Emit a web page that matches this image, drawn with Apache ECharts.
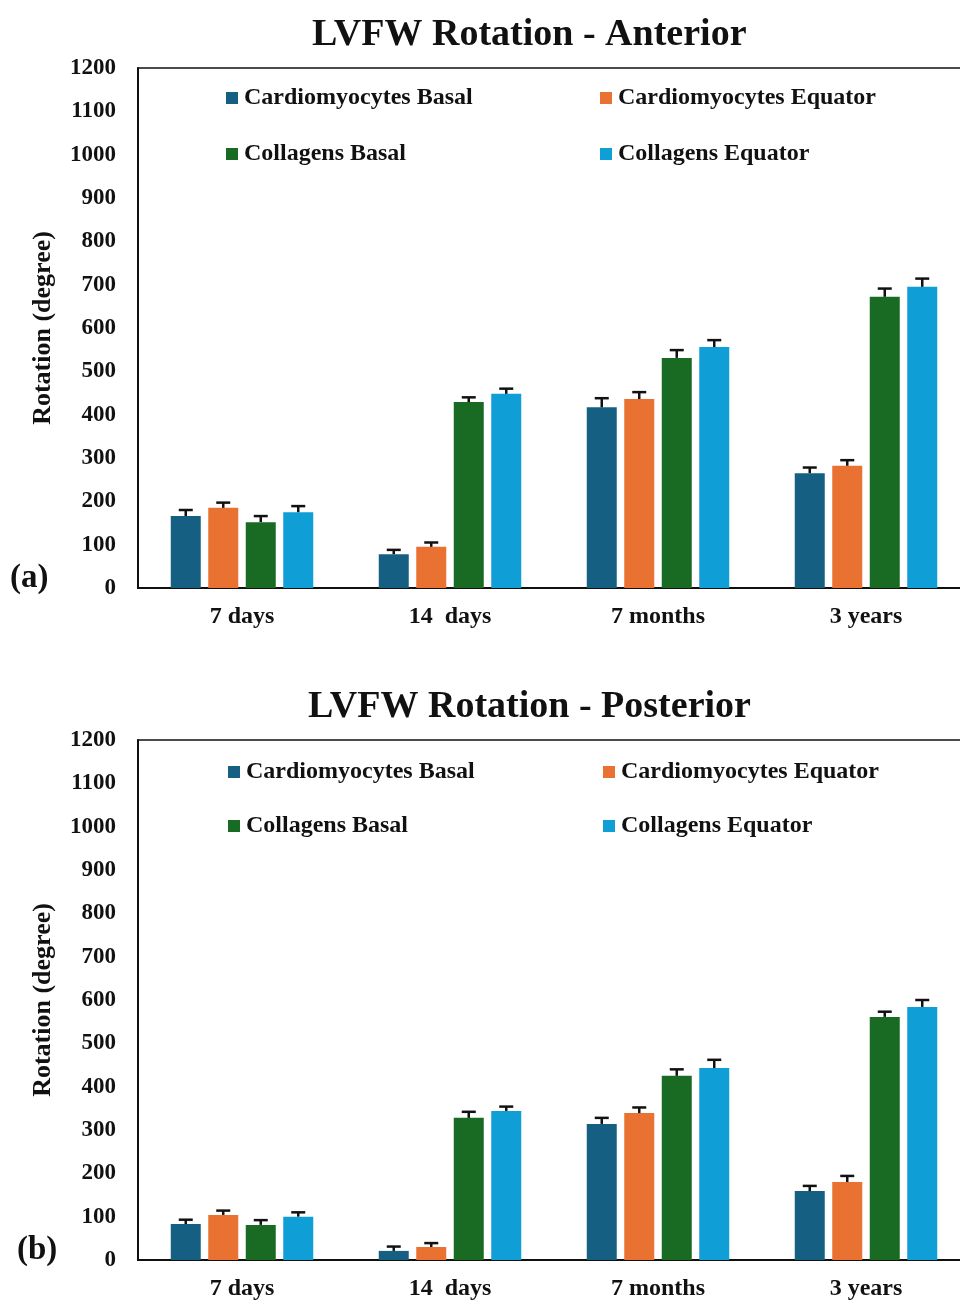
<!DOCTYPE html>
<html>
<head>
<meta charset="utf-8">
<script src="https://cdn.jsdelivr.net/npm/echarts@6/dist/echarts.min.js"></script>
<style>
  html, body { margin: 0; padding: 0; background: #fff; overflow: hidden; }
  /* 오른쪽 테두리가 화면 밖으로 나가도록 조금 넓게 */
  #main { width: 970px; height: 1303px; }
</style>
</head>
<body>
<div id="main"></div>
<script>
  /* data */
  var categories = ['7 days', '14  days', '7 months', '3 years'];
  var seriesNames = ['Cardiomyocytes Basal', 'Cardiomyocytes Equator', 'Collagens Basal', 'Collagens Equator'];
  var seriesColors = ['#156082', '#e97132', '#196b24', '#0f9ed5'];
  var yTicks = [0, 1200, 100]; // min, max, interval

  // (a) Anterior
  var antCardioBasal = [166, 78, 417, 265];
  var antCardioEquator = [185, 95, 436, 282];
  var antCollBasal = [152, 429, 531, 672];
  var antCollEquator = [175, 448, 556, 695];
  var antErrCardioBasal = [14, 10, 21, 13];
  var antErrCardioEquator = [12, 10, 16, 13];
  var antErrCollBasal = [14, 11, 18, 19];
  var antErrCollEquator = [14, 12, 16, 19];

  // (b) Posterior
  var postCardioBasal = [83, 21, 314, 159];
  var postCardioEquator = [104, 30, 339, 180];
  var postCollBasal = [81, 328, 425, 561];
  var postCollEquator = [100, 344, 443, 584];
  var postErrCardioBasal = [10, 10, 14, 12];
  var postErrCardioEquator = [10, 9, 13, 14];
  var postErrCollBasal = [11, 14, 15, 12];
  var postErrCollEquator = [10, 10, 19, 16];

  var FONT = '"Liberation Serif", "Times New Roman", serif';
  var BAR_W = 30;
  var BAR_GAP = 7.5;

  var myChart = echarts.init(document.getElementById('main'));

  // 막대 하나 만들기
  function makeBar(name, idx, values, gi) {
    return {
      name: name,
      type: 'bar',
      xAxisIndex: gi,
      yAxisIndex: gi,
      barWidth: BAR_W,
      barGap: (BAR_GAP / BAR_W * 100) + '%',
      itemStyle: { color: seriesColors[idx] },
      data: values
    };
  }

  // 에러바 (위쪽만)
  function makeErr(idx, values, errs, gi) {
    var data = values.map(function (v, i) { return [i, v, errs[i]]; });
    return {
      type: 'custom',
      xAxisIndex: gi,
      yAxisIndex: gi,
      z: 5,
      silent: true,
      data: data,
      renderItem: function (params, api) {
        var off = (idx - 1.5) * (BAR_W + BAR_GAP);
        var base = api.coord([api.value(0), api.value(1)]);
        var top = api.coord([api.value(0), api.value(1) + api.value(2)]);
        var x = base[0] + off;
        var style = { stroke: '#111', lineWidth: 2.5 };
        return {
          type: 'group',
          children: [
            { type: 'line', shape: { x1: x, y1: base[1], x2: x, y2: top[1] }, style: style },
            { type: 'line', shape: { x1: x - 7, y1: top[1], x2: x + 7, y2: top[1] }, style: style }
          ]
        };
      }
    };
  }

  function makeGrid(top) {
    return {
      left: 138, top: top, right: 0, height: 520,
      show: true, borderColor: '#111', borderWidth: 1.5, backgroundColor: 'transparent'
    };
  }

  function makeX(gi) {
    return {
      type: 'category',
      gridIndex: gi,
      data: categories,
      axisLine: { lineStyle: { color: '#111', width: 2 } },
      axisTick: { show: false },
      axisLabel: { color: '#111', fontFamily: FONT, fontWeight: 'bold', fontSize: 24, margin: 17 }
    };
  }

  function makeY(gi) {
    return {
      type: 'value',
      gridIndex: gi,
      min: yTicks[0], max: yTicks[1], interval: yTicks[2],
      name: 'Rotation (degree)',
      nameLocation: 'middle',
      nameGap: 82,
      nameTextStyle: { color: '#111', fontFamily: FONT, fontWeight: 'bold', fontSize: 26 },
      axisLine: { show: true, lineStyle: { color: '#111', width: 2 } },
      axisTick: { show: false },
      splitLine: { show: false },
      axisLabel: {
        color: '#111', fontFamily: FONT, fontWeight: 'bold', fontSize: 23, margin: 22,
        formatter: function (v) { return String(v); }
      }
    };
  }

  function makeLegend(left, top, gap, names) {
    return {
      left: left, top: top,
      orient: 'vertical',
      icon: 'rect',
      itemWidth: 12, itemHeight: 12,
      itemGap: gap,
      data: names,
      textStyle: { color: '#111', fontFamily: FONT, fontWeight: 'bold', fontSize: 24, lineHeight: 24, padding: [0, 0, 0, 1] }
    };
  }

  var titleStyle = { color: '#111', fontFamily: FONT, fontWeight: 'bold', fontSize: 38 };
  var tagStyle = { color: '#111', fontFamily: FONT, fontWeight: 'bold', fontSize: 33 };

  var option = {
    animation: false,
    backgroundColor: '#fff',
    title: [
      { text: 'LVFW Rotation - Anterior', left: 307, top: 11, textStyle: titleStyle },
      { text: 'LVFW Rotation - Posterior', left: 303, top: 683, textStyle: titleStyle },
      { text: '(a)', left: 5, top: 557, textStyle: tagStyle },
      { text: '(b)', left: 12, top: 1229, textStyle: tagStyle }
    ],
    legend: [
      makeLegend(221, 81, 32, [seriesNames[0], seriesNames[2]]),
      makeLegend(595, 81, 32, [seriesNames[1], seriesNames[3]]),
      makeLegend(223, 755, 30, [seriesNames[0], seriesNames[2]]),
      makeLegend(598, 755, 30, [seriesNames[1], seriesNames[3]])
    ],
    grid: [makeGrid(68), makeGrid(740)],
    xAxis: [makeX(0), makeX(1)],
    yAxis: [makeY(0), makeY(1)],
    series: [
      makeBar(seriesNames[0], 0, antCardioBasal, 0),
      makeBar(seriesNames[1], 1, antCardioEquator, 0),
      makeBar(seriesNames[2], 2, antCollBasal, 0),
      makeBar(seriesNames[3], 3, antCollEquator, 0),
      makeErr(0, antCardioBasal, antErrCardioBasal, 0),
      makeErr(1, antCardioEquator, antErrCardioEquator, 0),
      makeErr(2, antCollBasal, antErrCollBasal, 0),
      makeErr(3, antCollEquator, antErrCollEquator, 0),
      makeBar(seriesNames[0], 0, postCardioBasal, 1),
      makeBar(seriesNames[1], 1, postCardioEquator, 1),
      makeBar(seriesNames[2], 2, postCollBasal, 1),
      makeBar(seriesNames[3], 3, postCollEquator, 1),
      makeErr(0, postCardioBasal, postErrCardioBasal, 1),
      makeErr(1, postCardioEquator, postErrCardioEquator, 1),
      makeErr(2, postCollBasal, postErrCollBasal, 1),
      makeErr(3, postCollEquator, postErrCollEquator, 1)
    ]
  };

  myChart.setOption(option);
</script>
</body>
</html>
